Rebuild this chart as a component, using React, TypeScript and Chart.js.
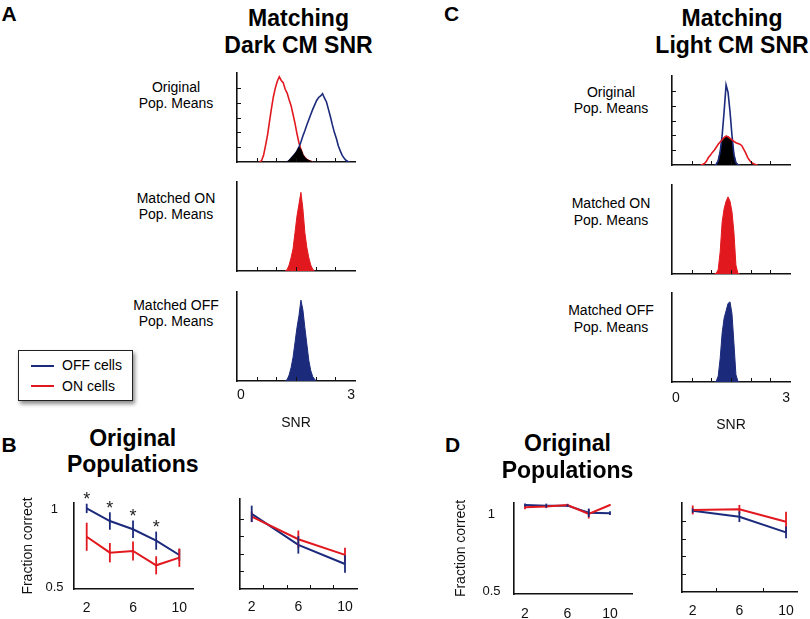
import React, { useEffect, useRef } from 'react';
import { Chart, registerables } from 'chart.js';

Chart.register(...registerables);

const FONT = '"Liberation Sans", Arial, Helvetica, sans-serif';
const RED = '#e2181f';
const BLUE = '#1c2a7c';
const INK = '#111111';

// ---------------- Histogram data: SNR bins of width 0.05 on [0, 3] ----------------
const SNR_BIN_CENTERS = Array.from({ length: 60 }, (_, i) => 0.025 + i * 0.05);
const SNR_MINOR_TICKS = [0.5, 1, 1.5, 2, 2.5];
const SNR_TICK_LABELS = [0, 3];
const COUNT_MINOR_TICKS = [1, 2, 3, 4, 5];

// A – matching dark CM SNR (values start at the given bin index)
const A1_ON_FIRST = 12;
const A1_ON = [0.1, 0.45, 1.1, 1.8, 2.7, 3.6, 4.4, 5.0, 5.45, 5.75, 5.5, 5.35, 4.9, 4.65, 4.2, 3.8, 3.2, 2.6, 1.9, 1.3, 0.85, 0.5, 0.3, 0.18, 0.1, 0.05];
const A1_OFF_FIRST = 26;
const A1_OFF = [0.1, 0.25, 0.4, 0.55, 0.75, 1.0, 1.35, 1.75, 2.1, 2.5, 2.85, 3.2, 3.55, 3.85, 4.15, 4.35, 4.45, 4.6, 4.3, 4.05, 3.55, 3.05, 2.5, 2.0, 1.6, 1.1, 0.75, 0.45, 0.25, 0.1, 0.03];
const A1_BOTH_FIRST = 26;
const A1_BOTH = [0.1, 0.25, 0.4, 0.55, 0.75, 1.0, 0.85, 0.5, 0.3, 0.18, 0.1, 0.05];
const A2_ON_FIRST = 25;
const A2_ON = [0.1, 0.4, 0.9, 1.5, 2.6, 3.7, 4.5, 5.3, 4.2, 2.6, 1.6, 0.9, 0.4, 0.12];
const A3_OFF_FIRST = 25;
const A3_OFF = [0.1, 0.4, 0.9, 1.6, 2.6, 3.6, 4.4, 5.45, 4.8, 3.6, 2.5, 1.4, 0.7, 0.3, 0.1];

// C – matching light CM SNR
const C1_ON_FIRST = 15;
const C1_ON = [0.03, 0.1, 0.25, 0.5, 0.65, 0.85, 1.0, 1.2, 1.4, 1.55, 1.7, 1.85, 1.95, 1.9, 1.8, 1.7, 1.6, 1.5, 1.45, 1.4, 1.3, 1.05, 0.8, 0.5, 0.3, 0.15, 0.08, 0.03];
const C1_OFF_FIRST = 22;
const C1_OFF = [0.05, 0.3, 0.9, 2.0, 3.6, 5.4, 4.9, 3.6, 2.0, 0.7, 0.15, 0.03];
const C1_BOTH_FIRST = 22;
const C1_BOTH = [0.05, 0.3, 0.9, 1.7, 1.85, 1.95, 1.9, 1.8, 1.7, 0.7, 0.15, 0.03];
const C2_ON_FIRST = 22;
const C2_ON = [0.05, 0.3, 1.5, 3.5, 4.4, 4.9, 5.2, 4.9, 4.2, 2.8, 0.6, 0.05];
const C3_OFF_FIRST = 22;
const C3_OFF = [0.05, 0.4, 1.6, 3.3, 4.3, 4.8, 5.3, 5.4, 4.6, 2.6, 0.5, 0.05];

// ---------------- Fraction correct vs population size ----------------
const SIZES_ALL = [2, 4, 6, 8, 10];
const SIZES_MATCHED = [2, 6, 10];
const SIZE_TICK_LABELS = [2, 6, 10];
const FRACTION_TICK_LABELS = [0.5, 1];

const B1_OFF = [1.004, 0.923, 0.87, 0.797, 0.705];
const B1_OFF_ERR = [0.03, 0.056, 0.056, 0.058, 0.038];
const B1_ON = [0.822, 0.72, 0.731, 0.639, 0.688];
const B1_ON_ERR = [0.09, 0.062, 0.061, 0.058, 0.059];
const B1_SIGNIFICANT = [2, 4, 6, 8];

const B2_OFF = [0.927, 0.75, 0.641];
const B2_OFF_ERR = [0.047, 0.05, 0.05];
const B2_ON = [0.911, 0.782, 0.693];
const B2_ON_ERR = [0.03, 0.05, 0.041];

const D1_OFF = [1.06, 1.056, 1.056, 1.01, 1.007];
const D1_OFF_ERR = [0.01, 0.013, 0.008, 0.027, 0.012];
const D1_ON = [1.045, 1.05, 1.06, 1.003, 1.06];
const D1_ON_ERR = [0.012, 0.01, 0.008, 0.03, 0.005];

const D2_OFF = [0.957, 0.923, 0.835];
const D2_OFF_ERR = [0.012, 0.03, 0.033];
const D2_ON = [0.961, 0.965, 0.895];
const D2_ON_ERR = [0.025, 0.024, 0.056];

// ---------------- helpers ----------------
function binPoints(first: number, values: number[]) {
  const pts: { x: number; y: number }[] = [];
  for (let j = -1; j <= values.length; j++) {
    const idx = first + j;
    if (idx < 0 || idx >= SNR_BIN_CENTERS.length) continue;
    pts.push({ x: SNR_BIN_CENTERS[idx], y: j >= 0 && j < values.length ? values[j] : 0 });
  }
  return pts;
}
const outline = (pts: any[], color: string) => ({
  data: pts, borderColor: color, borderWidth: 1.6, pointRadius: 0, fill: false, tension: 0,
});
const filled = (pts: any[], color: string) => ({
  data: pts, borderColor: color, backgroundColor: color, borderWidth: 1, pointRadius: 0, fill: 'origin', tension: 0,
});
const series = (xs: number[], ys: number[], errs: number[], color: string) => ({
  data: xs.map((x, i) => ({ x, y: ys[i] })), errors: errs,
  borderColor: color, borderWidth: 2, pointRadius: 0, fill: false, tension: 0,
});

type Area = { l: number; t: number; r: number; b: number };
type Frame = { yAxisW: number; xAxisH: number; top: number; right: number };
interface PanelSpec {
  key: string;
  area: Area;
  frame: Frame;
  xMin: number; xMax: number; yMin: number; yMax: number;
  xLabels?: number[]; yLabels?: number[];
  xLabelPad?: number; yLabelPad?: number;
  xAlign?: 'center' | 'inner';
  xTitle?: string; yTitle?: string; yTitlePad?: number;
  xTicks?: number[]; yTicks?: number[];
  datasets: any[];
  stars?: { xs: number[]; dataset: number };
}

function decorPlugin(s: PanelSpec) {
  return {
    id: 'decor_' + s.key,
    afterDatasetsDraw(chart: any) {
      const { ctx, chartArea: a, scales } = chart;
      const xs = scales.x;
      const ys = scales.y;
      ctx.save();
      chart.data.datasets.forEach((ds: any) => {
        if (!ds.errors) return;
        ctx.strokeStyle = ds.borderColor;
        ctx.lineWidth = 1.8;
        ds.data.forEach((p: any, i: number) => {
          const e = ds.errors[i];
          const px = xs.getPixelForValue(p.x);
          ctx.beginPath();
          ctx.moveTo(px, ys.getPixelForValue(p.y - e));
          ctx.lineTo(px, ys.getPixelForValue(p.y + e));
          ctx.stroke();
        });
      });
      ctx.strokeStyle = INK;
      ctx.lineWidth = 1;
      (s.xTicks || []).forEach((v) => {
        const px = Math.round(xs.getPixelForValue(v)) + 0.5;
        ctx.beginPath();
        ctx.moveTo(px, a.bottom);
        ctx.lineTo(px, a.bottom - 4);
        ctx.stroke();
      });
      (s.yTicks || []).forEach((v) => {
        const py = Math.round(ys.getPixelForValue(v)) + 0.5;
        ctx.beginPath();
        ctx.moveTo(a.left, py);
        ctx.lineTo(a.left + 4, py);
        ctx.stroke();
      });
      if (s.stars) {
        const ds = chart.data.datasets[s.stars.dataset];
        ctx.fillStyle = '#222';
        ctx.font = `18px ${FONT}`;
        ctx.textAlign = 'center';
        ctx.textBaseline = 'alphabetic';
        s.stars.xs.forEach((xv) => {
          const i = ds.data.findIndex((p: any) => p.x === xv);
          if (i < 0) return;
          const p = ds.data[i];
          const top = ys.getPixelForValue(p.y + ds.errors[i]);
          ctx.fillText('*', xs.getPixelForValue(xv), top + 1.5);
        });
      }
      ctx.restore();
    },
  };
}

function buildConfig(s: PanelSpec) {
  return {
    type: 'line',
    data: { datasets: s.datasets },
    options: {
      responsive: false,
      maintainAspectRatio: false,
      animation: false,
      devicePixelRatio: 1,
      events: [],
      layout: { padding: { left: 0, top: s.frame.top, right: s.frame.right, bottom: 0 } },
      plugins: { legend: { display: false }, tooltip: { enabled: false } },
      scales: {
        x: {
          type: 'linear', position: 'bottom', min: s.xMin, max: s.xMax,
          grid: { display: false, drawTicks: false },
          border: { display: true, color: INK, width: 1.6 },
          ticks: {
            display: !!s.xLabels, color: INK, font: { family: FONT, size: 14 },
            padding: s.xLabelPad ?? 8, maxRotation: 0, minRotation: 0, autoSkip: false,
            align: s.xAlign ?? 'center', callback: (v: any) => String(v),
          },
          afterBuildTicks: (ax: any) => { if (s.xLabels) ax.ticks = s.xLabels.map((v) => ({ value: v })); },
          afterFit: (ax: any) => { ax.height = s.frame.xAxisH; },
          title: {
            display: !!s.xTitle, text: s.xTitle ?? '', color: INK,
            font: { family: FONT, size: 14, lineHeight: 1.2 }, padding: 0,
          },
        },
        y: {
          type: 'linear', position: 'left', min: s.yMin, max: s.yMax,
          grid: { display: false, drawTicks: false },
          border: { display: true, color: INK, width: 1.6 },
          ticks: {
            display: !!s.yLabels, color: INK, font: { family: FONT, size: 13 },
            padding: s.yLabelPad ?? 8, crossAlign: 'center', autoSkip: false,
            callback: (v: any) => String(v),
          },
          afterBuildTicks: (ax: any) => { if (s.yLabels) ax.ticks = s.yLabels.map((v) => ({ value: v })); },
          afterFit: (ax: any) => { ax.width = s.frame.yAxisW; },
          title: {
            display: !!s.yTitle, text: s.yTitle ?? '', color: INK,
            font: { family: FONT, size: 14, lineHeight: 1.2 },
            padding: { top: s.yTitlePad ?? 0, bottom: 0 },
          },
        },
      },
    },
    plugins: [decorPlugin(s)],
  };
}

const HIST_FRAME: Frame = { yAxisW: 10, xAxisH: 10, top: 10, right: 10 };
const HIST_RANGE = { xMin: 0, xMax: 3, yMin: 0, yMax: 6 };

const PANELS: PanelSpec[] = [
  {
    key: 'A1', area: { l: 237, t: 73, r: 355, b: 162 }, frame: HIST_FRAME, ...HIST_RANGE,
    xTicks: SNR_MINOR_TICKS, yTicks: COUNT_MINOR_TICKS,
    datasets: [
      filled(binPoints(A1_BOTH_FIRST, A1_BOTH), '#000000'),
      outline(binPoints(A1_OFF_FIRST, A1_OFF), BLUE),
      outline(binPoints(A1_ON_FIRST, A1_ON), RED),
    ],
  },
  {
    key: 'A2', area: { l: 237, t: 182, r: 355, b: 271 }, frame: HIST_FRAME, ...HIST_RANGE,
    xTicks: SNR_MINOR_TICKS,
    datasets: [filled(binPoints(A2_ON_FIRST, A2_ON), RED)],
  },
  {
    key: 'A3', area: { l: 237, t: 292, r: 355, b: 381 }, frame: { ...HIST_FRAME, xAxisH: 51 }, ...HIST_RANGE,
    xTicks: SNR_MINOR_TICKS, xLabels: SNR_TICK_LABELS, xAlign: 'inner', xLabelPad: 6, xTitle: 'SNR',
    datasets: [filled(binPoints(A3_OFF_FIRST, A3_OFF), BLUE)],
  },
  {
    key: 'C1', area: { l: 672, t: 76, r: 790, b: 165 }, frame: HIST_FRAME, ...HIST_RANGE,
    xTicks: SNR_MINOR_TICKS, yTicks: COUNT_MINOR_TICKS,
    datasets: [
      outline(binPoints(C1_ON_FIRST, C1_ON), RED),
      outline(binPoints(C1_OFF_FIRST, C1_OFF), BLUE),
      filled(binPoints(C1_BOTH_FIRST, C1_BOTH), '#000000'),
    ],
  },
  {
    key: 'C2', area: { l: 672, t: 185, r: 790, b: 274 }, frame: HIST_FRAME, ...HIST_RANGE,
    xTicks: SNR_MINOR_TICKS,
    datasets: [filled(binPoints(C2_ON_FIRST, C2_ON), RED)],
  },
  {
    key: 'C3', area: { l: 672, t: 293, r: 790, b: 382 }, frame: { ...HIST_FRAME, xAxisH: 52 }, ...HIST_RANGE,
    xTicks: SNR_MINOR_TICKS, xLabels: SNR_TICK_LABELS, xAlign: 'inner', xLabelPad: 8, xTitle: 'SNR',
    datasets: [filled(binPoints(C3_OFF_FIRST, C3_OFF), BLUE)],
  },
  {
    key: 'B1', area: { l: 74, t: 503, r: 193, b: 589 }, frame: { yAxisW: 60, xAxisH: 30, top: 22, right: 12 },
    xMin: 0.903, xMax: 11.18, yMin: 0.487, yMax: 1.0385,
    xLabels: SIZE_TICK_LABELS, xLabelPad: 11, yLabels: FRACTION_TICK_LABELS, yLabelPad: 10.5,
    yTitle: 'Fraction correct', yTitlePad: 6,
    datasets: [series(SIZES_ALL, B1_OFF, B1_OFF_ERR, BLUE), series(SIZES_ALL, B1_ON, B1_ON_ERR, RED)],
    stars: { xs: B1_SIGNIFICANT, dataset: 0 },
  },
  {
    key: 'B2', area: { l: 240, t: 499, r: 357, b: 589 }, frame: { yAxisW: 10, xAxisH: 30, top: 22, right: 12 },
    xMin: 0.997, xMax: 11.03, yMin: 0.498, yMax: 1.012,
    xLabels: SIZE_TICK_LABELS, xLabelPad: 10, xTicks: [3, 5, 7, 9], yTicks: [0.6, 0.7, 0.8, 0.9],
    datasets: [series(SIZES_MATCHED, B2_ON, B2_ON_ERR, RED), series(SIZES_MATCHED, B2_OFF, B2_OFF_ERR, BLUE)],
  },
  {
    key: 'D1', area: { l: 514, t: 503, r: 632, b: 594 }, frame: { yAxisW: 62, xAxisH: 30, top: 22, right: 12 },
    xMin: 0.965, xMax: 12.07, yMin: 0.485, yMax: 1.073,
    xLabels: SIZE_TICK_LABELS, xLabelPad: 11.6, yLabels: FRACTION_TICK_LABELS, yLabelPad: 13.5,
    yTitle: 'Fraction correct', yTitlePad: 1,
    datasets: [series(SIZES_ALL, D1_ON, D1_ON_ERR, RED), series(SIZES_ALL, D1_OFF, D1_OFF_ERR, BLUE)],
  },
  {
    key: 'D2', area: { l: 682, t: 503, r: 797, b: 592 }, frame: { yAxisW: 10, xAxisH: 30, top: 22, right: 12 },
    xMin: 1.082, xMax: 10.94, yMin: 0.5, yMax: 1.0,
    xLabels: SIZE_TICK_LABELS, xLabelPad: 10.6, xTicks: [4, 8], yTicks: [0.6, 0.7, 0.8, 0.9],
    datasets: [series(SIZES_MATCHED, D2_ON, D2_ON_ERR, RED), series(SIZES_MATCHED, D2_OFF, D2_OFF_ERR, BLUE)],
  },
];

function ChartPanel({ spec }: { spec: PanelSpec }) {
  const ref = useRef<HTMLCanvasElement | null>(null);
  const { area, frame } = spec;
  const w = area.r - area.l + frame.yAxisW + frame.right;
  const h = area.b - area.t + frame.top + frame.xAxisH;
  useEffect(() => {
    if (!ref.current) return;
    const chart = new Chart(ref.current, buildConfig(spec) as any);
    return () => chart.destroy();
  }, [spec]);
  return (
    <canvas
      ref={ref}
      width={w}
      height={h}
      style={{ position: 'absolute', left: area.l - frame.yAxisW, top: area.t - frame.top, width: w, height: h }}
    />
  );
}

// Text positioned by its baseline
function T({ x, y, size, bold, center, children }: { x: number; y: number; size: number; bold?: boolean; center?: boolean; children: React.ReactNode }) {
  return (
    <div
      style={{
        position: 'absolute', left: x, top: y - 0.8465 * size, fontSize: size, lineHeight: `${size}px`,
        fontFamily: FONT, fontWeight: bold ? 700 : 400, whiteSpace: 'nowrap', color: '#000',
        transform: center ? 'translateX(-50%)' : undefined,
      }}
    >
      {children}
    </div>
  );
}

export default function App() {
  return (
    <div style={{ position: 'absolute', left: 0, top: 0, width: 810, height: 619, background: '#fff', overflow: 'hidden' }}>
      {PANELS.map((p) => <ChartPanel key={p.key} spec={p} />)}

      <T x={1.5} y={20.7} size={21} bold>A</T>
      <T x={444} y={20.5} size={21} bold>C</T>
      <T x={1.5} y={451.7} size={21} bold>B</T>
      <T x={445} y={451.7} size={21} bold>D</T>

      <T x={298.5} y={26} size={23} bold center>Matching</T>
      <T x={298.5} y={53.3} size={23} bold center>Dark CM SNR</T>
      <T x={732} y={26.3} size={23} bold center>Matching</T>
      <T x={732} y={53.3} size={23} bold center>Light CM SNR</T>

      <T x={132.7} y={446.5} size={23} bold center>Original</T>
      <T x={132.7} y={472.7} size={23} bold center>Populations</T>
      <T x={567.5} y={451.5} size={23} bold center>Original</T>
      <T x={567.5} y={478.2} size={23} bold center>Populations</T>

      <T x={176} y={92.3} size={14} center>Original</T>
      <T x={176} y={108.3} size={14} center>Pop. Means</T>
      <T x={176} y={203.3} size={14} center>Matched ON</T>
      <T x={176} y={219.3} size={14} center>Pop. Means</T>
      <T x={176} y={310} size={14} center>Matched OFF</T>
      <T x={176} y={326} size={14} center>Pop. Means</T>

      <T x={611} y={97.3} size={14} center>Original</T>
      <T x={611} y={113.3} size={14} center>Pop. Means</T>
      <T x={611} y={208.3} size={14} center>Matched ON</T>
      <T x={611} y={225} size={14} center>Pop. Means</T>
      <T x={611} y={315} size={14} center>Matched OFF</T>
      <T x={611} y={331.7} size={14} center>Pop. Means</T>

      <div
        style={{
          position: 'absolute', left: 18, top: 350, width: 115, height: 51, boxSizing: 'border-box',
          border: '1px solid #222', background: '#fff', boxShadow: '2px 3px 4px rgba(0,0,0,0.45)',
        }}
      >
        <div style={{ position: 'absolute', left: 12, top: 14, width: 23, height: 2, background: BLUE }} />
        <div style={{ position: 'absolute', left: 12, top: 34, width: 23, height: 2, background: RED }} />
        <T x={43} y={19} size={14}>OFF cells</T>
        <T x={43} y={39.7} size={14}>ON cells</T>
      </div>
    </div>
  );
}
